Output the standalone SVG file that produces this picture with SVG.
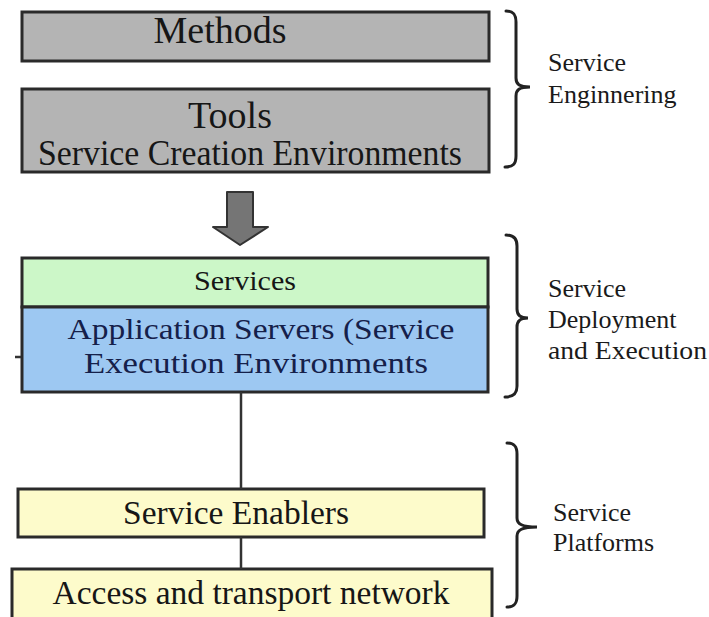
<svg xmlns="http://www.w3.org/2000/svg" width="709" height="617" viewBox="0 0 709 617">
<style>
.box{stroke:#2a2a2a;stroke-width:3}
.gray{fill:#b4b4b4}
.green{fill:#ccf7c8}
.blue{fill:#9dc8f2}
.yellow{fill:#fdfbcb}
.t{font-family:"Liberation Serif","Times New Roman",serif;fill:#161616;text-anchor:middle}
.navy{fill:#15204a}
.lbl{font-family:"Liberation Serif","Times New Roman",serif;fill:#1a1a1a;font-size:26px}
.brace{fill:none;stroke:#222;stroke-width:3;stroke-linecap:round}
.conn{stroke:#333;stroke-width:2.5;fill:none}
</style>
<rect width="709" height="617" fill="#ffffff"/>
<g id="methods">
<rect class="box gray" x="22" y="12" width="467" height="49"/>
<text class="t" x="220" y="43" font-size="38">Methods</text>
</g>
<g id="tools">
<rect class="box gray" x="22" y="89" width="467" height="83"/>
<text class="t" x="230" y="128" font-size="38">Tools</text>
<text class="t" x="250" y="165" font-size="35" textLength="424" lengthAdjust="spacingAndGlyphs">Service Creation Environments</text>
</g>
<g id="arrow">
<path d="M227 192 H253 V227 H268 L240 245 L213 227 H227 Z" fill="#757575" stroke="#333" stroke-width="2" stroke-linejoin="round"/>
</g>
<g id="services">
<rect class="box green" x="22" y="258" width="466" height="49"/>
<text class="t" x="245" y="290" font-size="28" textLength="102" lengthAdjust="spacingAndGlyphs">Services</text>
</g>
<g id="appservers">
<rect class="box blue" x="22" y="307" width="466" height="85"/>
<text class="t navy" x="261" y="339" font-size="30" textLength="387" lengthAdjust="spacingAndGlyphs">Application Servers (Service</text>
<text class="t navy" x="256" y="373" font-size="30" textLength="344" lengthAdjust="spacingAndGlyphs">Execution Environments</text>
</g>
<g id="enablers">
<rect class="box yellow" x="18" y="489" width="466" height="48"/>
<text class="t" x="236" y="524" font-size="33" textLength="226" lengthAdjust="spacingAndGlyphs">Service Enablers</text>
</g>
<g id="access">
<rect class="box yellow" x="12" y="569" width="480" height="52"/>
<text class="t" x="251" y="604" font-size="33" textLength="397" lengthAdjust="spacingAndGlyphs">Access and transport network</text>
</g>
<g id="connectors">
<line class="conn" x1="241" y1="392" x2="241" y2="489"/>
<line class="conn" x1="241" y1="537" x2="241" y2="569"/>
<line class="conn" x1="15" y1="357" x2="21" y2="357"/>
</g>
<g id="brace-engineering">
<path class="brace" d="M506 11 C513 11 516 14 516 22 L516 78 C516 84 519 87 530 87 C519 87 516 90 516 96 L516 156 C516 164 513 167 505 167"/>
<text class="lbl" x="548" y="71">Service</text>
<text class="lbl" x="548" y="103">Enginnering</text>
</g>
<g id="brace-deployment">
<path class="brace" d="M506 235 C513 235 517 238 517 246 L517 309 C517 315 520 318 528 318 C520 318 517 321 517 327 L517 386 C517 394 513 397 505 397"/>
<text class="lbl" x="548" y="297">Service</text>
<text class="lbl" x="548" y="328">Deployment</text>
<text class="lbl" x="548" y="359" textLength="159" lengthAdjust="spacingAndGlyphs">and Execution</text>
</g>
<g id="brace-platforms">
<path class="brace" d="M507 443 C514 443 517 446 517 454 L517 518 C517 524 522 527 537 527 C522 527 517 530 517 536 L517 596 C517 604 514 607 507 607"/>
<text class="lbl" x="553" y="521">Service</text>
<text class="lbl" x="553" y="551">Platforms</text>
</g>
</svg>
